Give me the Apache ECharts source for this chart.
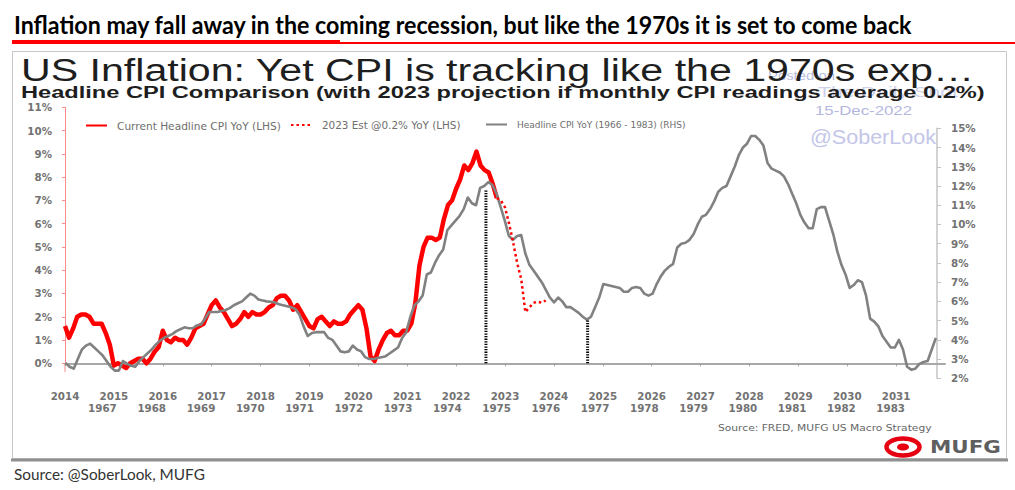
<!DOCTYPE html>
<html>
<head>
<meta charset="utf-8">
<script src="https://cdn.jsdelivr.net/npm/echarts@6/dist/echarts.min.js"></script>
<style>html,body{margin:0;padding:0;background:#fff}#c{width:1015px;height:490px}</style>
</head>
<body>
<div id="c"></div>
<script>
// ---- Data ----
const yearTicks = [2014,2015,2016,2017,2018,2019,2020,2021,2022,2023,2024,2025,2026,2027,2028,2029,2030,2031];
const histYearTicks = [1967,1968,1969,1970,1971,1972,1973,1974,1975,1976,1977,1978,1979,1980,1981,1982,1983];

// Current headline CPI YoY (%), monthly Jan 2014 - Nov 2022 (LHS)
const cpiStart = 2014;
const cpiCurrent = [
  1.6,1.1,1.5,2.0,2.1,2.1,2.0,1.7,1.7,1.7,1.3,0.8,
  -0.1,0.0,-0.1,-0.2,0.0,0.1,0.2,0.2,0.0,0.2,0.5,0.7,
  1.4,1.0,0.9,1.1,1.0,1.0,0.8,1.1,1.5,1.6,1.7,2.1,
  2.5,2.7,2.4,2.2,1.9,1.6,1.7,1.9,2.2,2.0,2.2,2.1,
  2.1,2.2,2.4,2.5,2.8,2.9,2.9,2.7,2.3,2.5,2.2,1.9,
  1.6,1.5,1.9,2.0,1.8,1.6,1.8,1.7,1.7,1.8,2.1,2.3,
  2.5,2.3,1.5,0.3,0.1,0.6,1.0,1.3,1.4,1.2,1.2,1.4,
  1.4,1.7,2.6,4.2,5.0,5.4,5.4,5.3,5.4,6.2,6.8,7.0,
  7.5,7.9,8.5,8.3,8.6,9.1,8.5,8.3,8.2,7.7,7.1
];

// 2023 estimate @0.2% m/m (%), monthly Nov 2022 - Nov 2023 (LHS)
const estStart = 2022 + 10/12;
const cpiEstimate = [7.1,7.0,6.7,6.0,5.2,4.3,3.6,2.2,2.4,2.6,2.65,2.6,2.7];

// Headline CPI YoY 1966-1983 (%), monthly Apr 1966 - Dec 1983 (RHS)
const histStart = 1966 + 3/12;
const cpiHistory = [
  2.8,2.6,2.5,3.0,3.5,3.7,3.8,3.6,3.4,
  3.2,2.9,2.6,2.4,2.4,2.9,2.75,2.65,2.6,2.9,3.1,3.3,
  3.5,3.75,3.95,4.1,4.2,4.3,4.45,4.55,4.65,4.6,4.6,4.75,
  4.8,5.1,5.45,5.45,5.45,5.5,5.55,5.65,5.8,5.9,6.0,6.2,
  6.4,6.3,6.1,6.05,6.0,5.98,5.95,5.85,5.8,5.75,5.7,5.6,
  5.3,4.7,4.2,4.35,4.4,4.4,4.4,4.1,4.0,3.7,3.4,3.35,
  3.4,3.7,3.5,3.4,3.1,3.0,3.0,3.05,3.1,3.15,3.3,3.45,
  3.6,4.1,4.4,5.2,5.8,6.0,6.3,7.4,7.5,8.0,8.4,8.7,
  9.7,9.95,10.2,10.45,10.8,11.4,11.1,11.0,11.9,12.0,12.2,12.05,
  11.6,10.9,10.2,9.4,9.2,9.4,9.45,8.5,7.9,7.6,7.3,7.0,
  6.6,6.2,5.95,6.2,6.0,5.7,5.7,5.55,5.4,5.2,5.05,5.2,
  5.7,6.2,6.9,6.85,6.8,6.75,6.7,6.5,6.5,6.7,6.75,6.7,
  6.4,6.3,6.4,6.9,7.3,7.6,7.8,7.95,8.8,9.0,9.05,9.2,
  9.5,10.0,10.4,10.5,10.8,11.2,11.7,11.9,12.0,12.5,13.0,13.6,
  14.0,14.2,14.6,14.6,14.4,14.1,13.2,12.9,12.8,12.7,12.5,12.1,
  11.6,11.1,10.5,10.1,9.8,9.8,10.8,10.9,10.9,10.2,9.5,8.6,
  7.9,7.4,6.7,6.85,7.1,7.0,6.3,5.1,4.95,4.7,4.2,3.9,
  3.6,3.6,4.0,3.5,2.6,2.45,2.5,2.75,2.85,2.9,3.5,4.1
];

// Vertical dotted alignment markers (date on current axis, top value on LHS)
const alignDates = [2022.61, 2024.69];
const alignTops = [7.45, 1.86];

const names = ['Current Headline CPI YoY (LHS)', '2023 Est @0.2% YoY (LHS)', 'Headline CPI YoY (1966 - 1983) (RHS)'];

// ---- Build ----
const monthly = (start, vals) => vals.map((v, i) => [start + i / 12, v]);
const axisFont = {fontFamily: 'DejaVu Sans', fontSize: 10.3, fontWeight: 'bold', color: '#727272'};

const measureCtx = document.createElement('canvas').getContext('2d');
function fitText(text, x, y, family, size, weight, width, fill, z) {
  const font = weight + ' ' + size + 'px ' + family;
  measureCtx.font = font;
  const w = measureCtx.measureText(text).width || width;
  return {
    type: 'text', x: x, y: y, scaleX: width / w, z: z || 10,
    style: {text: text, x: 0, y: 0, fontFamily: family, fontSize: size, fontWeight: weight,
      fill: fill, align: 'left', verticalAlign: 'middle', textAlign: 'left', textVerticalAlign: 'middle'}
  };
}

const chart = echarts.init(document.getElementById('c'), null, {renderer: 'svg', width: 1015, height: 490});

const alignSeries = alignDates.map((d, i) => ({
  type: 'line', xAxisIndex: 0, yAxisIndex: 0, data: [[d, 0], [d, alignTops[i]]],
  symbol: 'none', silent: true, z: 6, clip: false,
  lineStyle: {color: '#000', width: 3, type: [1.3, 1.3]}
}));

function legendAt(left, name, size) {
  return {
    orient: 'horizontal', left: left, top: 115, itemWidth: 21, itemHeight: 8, itemGap: 0,
    selectedMode: false, data: [name],
    itemStyle: {opacity: 0},
    textStyle: {fontFamily: 'DejaVu Sans', fontSize: size, color: '#6e6e6e', padding: [0, 0, 0, 5]}
  };
}

const F = "'Liberation Sans',Arial";
chart.setOption({
  animation: false,
  backgroundColor: '#fff',
  legend: [legendAt(80, names[0], 10.6), legendAt(285, names[1], 10.4), legendAt(480, names[2], 9)],
  grid: [
    {left: 65, top: 107.3, width: 880, height: 256},
    {left: 65, top: 128.3, width: 872, height: 250}
  ],
  xAxis: [
    {
      type: 'value', gridIndex: 0, min: yearTicks[0], max: yearTicks[yearTicks.length - 1] + 1, interval: 1,
      axisLine: {lineStyle: {color: '#a8a8a8', width: 2}},
      axisTick: {length: 3, lineStyle: {color: '#a0a0a0', width: 1}},
      splitLine: {show: false},
      axisLabel: Object.assign({margin: 28, showMaxLabel: false,
        formatter: v => (yearTicks.indexOf(v) >= 0 ? String(v) : '')}, axisFont)
    },
    {
      type: 'value', gridIndex: 1, min: 1966.24, max: 1983.94,
      axisLine: {show: false}, axisTick: {show: false}, splitLine: {show: false},
      axisLabel: Object.assign({margin: 25, customValues: histYearTicks, formatter: v => String(v)}, axisFont)
    }
  ],
  yAxis: [
    {
      type: 'value', gridIndex: 0, position: 'left', min: 0, max: 11, interval: 1,
      axisLine: {show: true, lineStyle: {color: '#ff8c8c', width: 1}},
      axisTick: {show: true, length: 3, lineStyle: {color: '#ff8c8c'}},
      splitLine: {show: false},
      axisLabel: Object.assign({margin: 13, formatter: '{value}%'}, axisFont)
    },
    {
      type: 'value', gridIndex: 1, position: 'right', min: 2, max: 15, interval: 1,
      axisLine: {show: true, lineStyle: {color: '#c4c4c4', width: 1.5}},
      axisTick: {show: true, length: 4, lineStyle: {color: '#c4c4c4'}},
      splitLine: {show: false},
      axisLabel: Object.assign({margin: 14, formatter: '{value}%'}, axisFont)
    }
  ],
  series: [
    {
      name: names[0], type: 'line', xAxisIndex: 0, yAxisIndex: 0, data: monthly(cpiStart, cpiCurrent),
      symbol: 'none', clip: false, z: 2, color: '#ff0000',
      lineStyle: {color: '#ff0000', width: 4.5, join: 'round'}
    },
    {
      name: names[1], type: 'line', xAxisIndex: 0, yAxisIndex: 0, data: monthly(estStart, cpiEstimate),
      symbol: 'none', clip: false, z: 4, color: '#ff0000',
      lineStyle: {color: '#ff0000', width: 2.5, type: [2.5, 3]}
    },
    {
      name: names[2], type: 'line', xAxisIndex: 1, yAxisIndex: 1, data: monthly(histStart, cpiHistory),
      symbol: 'none', clip: false, z: 3, color: '#808080',
      lineStyle: {color: '#818181', width: 2.6, join: 'round'}
    }
  ].concat(alignSeries),
  graphic: [
    // headline
    fitText('Inflation may fall away in the coming recession, but like the 1970s it is set to come back',
      14, 24, 'Lato', 25, 'bold', 899, '#000'),
    {type: 'rect', shape: {x: 12, y: 40, width: 328, height: 4}, style: {fill: '#ff0000'}},
    {type: 'rect', shape: {x: 340, y: 42, width: 675, height: 2}, style: {fill: '#ff0000'}},
    // chart frame
    {type: 'rect', shape: {x: 12.5, y: 51.5, width: 994, height: 407}, style: {fill: 'none', stroke: '#c6c6c6', lineWidth: 1}},
    {type: 'rect', shape: {x: 11, y: 458.5, width: 997, height: 3}, style: {fill: '#8f8f8f'}},
    // watermark (behind titles)
    fitText('Posted on', 768, 76, F, 12, 'normal', 67, '#b9bde0', 8),
    fitText('The Daily Shot', 818, 92, F, 14, 'normal', 140, '#cfd2ea', 8),
    fitText('15-Dec-2022', 815, 110, F, 13, 'normal', 97, '#b4b8de', 8),
    fitText('@SoberLook', 810, 137, F, 20, 'normal', 126, '#c3c6e8', 12),
    // inner titles
    fitText('US Inflation: Yet CPI is tracking like the 1970s exp\u2026', 21, 70, F, 31, 'normal', 954, '#1e1e1e', 10),
    fitText('Headline CPI Comparison (with 2023 projection if monthly CPI readings average 0.2%)', 21, 92.5, F, 16, 'bold', 964, '#1e1e1e', 10),
    // left axis extension below zero
    {type: 'line', shape: {x1: 65, y1: 363, x2: 65, y2: 372}, style: {stroke: '#ff8c8c', lineWidth: 1}},
    // source inside chart
    fitText('Source: FRED, MUFG US Macro Strategy', 718, 428, 'DejaVu Sans', 9, 'normal', 214, '#666', 10),
    // MUFG logo
    {type: 'ellipse', shape: {cx: 903, cy: 447, rx: 16.5, ry: 8.5}, style: {fill: 'none', stroke: '#e60012', lineWidth: 4.5}},
    {type: 'ellipse', shape: {cx: 903, cy: 447, rx: 6, ry: 3.6}, style: {fill: '#e60012'}},
    fitText('MUFG', 930, 447.5, 'DejaVu Sans', 17, 'bold', 71, '#5f5f5f', 10),
    // footer
    fitText('Source: @SoberLook, MUFG', 14, 473.5, 'Lato', 16, 'normal', 191, '#333', 10)
  ]
});
</script>
</body>
</html>
